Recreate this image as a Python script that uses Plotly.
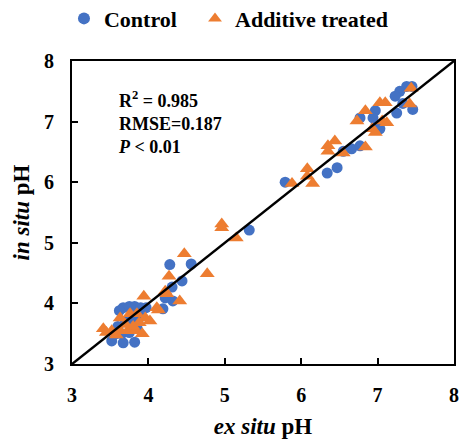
import plotly.graph_objects as go

# Control (blue circles)
control_x = [7.38, 7.45, 7.29, 7.23, 7.46, 7.25, 7.33, 6.97, 6.77, 6.94, 7.03, 6.98,
             6.66, 6.77, 6.55, 6.47, 6.34, 5.79, 5.32, 4.56, 4.28, 4.44, 4.31, 4.32,
             4.19, 4.22, 3.67, 3.75, 3.82, 3.90, 3.97, 3.62, 3.85, 3.70, 3.78, 3.90,
             3.58, 3.65, 3.75, 3.52, 3.67, 3.82, 3.60, 3.85]
control_y = [7.58, 7.58, 7.50, 7.42, 7.20, 7.14, 7.30, 7.18, 7.06, 7.06, 6.88, 6.95,
             6.55, 6.60, 6.51, 6.24, 6.15, 6.00, 5.21, 4.65, 4.64, 4.37, 4.27, 4.04,
             3.91, 4.09, 3.93, 3.95, 3.95, 3.93, 3.93, 3.88, 3.85, 3.70, 3.72, 3.78,
             3.50, 3.50, 3.52, 3.38, 3.35, 3.36, 3.62, 3.60]

# Additive treated (orange triangles)
additive_x = [7.44, 7.42, 7.03, 7.10, 6.84, 6.73, 7.06, 7.12, 6.93, 6.97, 6.44, 6.35,
              6.35, 6.55, 6.84, 6.08, 6.08, 5.88, 6.15, 4.96, 4.96, 5.15, 4.47, 4.27,
              4.77, 4.22, 4.41, 4.11, 4.24, 3.94, 4.13, 3.63, 3.76, 3.85, 3.96, 4.02,
              3.41, 3.52, 3.63, 3.73, 3.83, 3.92, 3.45, 3.70, 3.88, 3.80, 3.58]
additive_y = [7.55, 7.29, 7.31, 7.31, 7.18, 7.01, 7.01, 6.98, 6.88, 6.82, 6.68, 6.60,
              6.51, 6.48, 6.58, 6.22, 6.10, 5.98, 5.98, 5.31, 5.25, 5.08, 4.82, 4.45,
              4.49, 4.20, 4.04, 3.93, 4.16, 4.12, 3.89, 3.76, 3.83, 3.83, 3.76, 3.71,
              3.58, 3.55, 3.55, 3.55, 3.55, 3.50, 3.52, 3.65, 3.68, 3.62, 3.48]

line_x = [3, 8]
line_y = [3, 8]
tick_vals = [3, 4, 5, 6, 7, 8]

stats_text = ["R<sup>2</sup> = 0.985", "RMSE=0.187", "<i>P</i> < 0.01"]

FONT = "Liberation Serif"
BLUE = "#4472C4"
ORANGE = "#ED7D31"

fig = go.Figure()
fig.add_trace(go.Scatter(x=control_x, y=control_y, mode="markers", name="Control",
                         legend="legend",
                         marker=dict(symbol="circle", size=11, color=BLUE)))
fig.add_trace(go.Scatter(x=additive_x, y=additive_y, mode="markers", name="Additive treated",
                         legend="legend2",
                         marker=dict(symbol="triangle-up", size=13, color=ORANGE)))
fig.add_trace(go.Scatter(x=line_x, y=line_y, mode="lines",
                         line=dict(color="black", width=2.5),
                         showlegend=False, hoverinfo="skip"))

axis_common = dict(range=[3, 8], tickvals=tick_vals, ticks="inside", ticklen=6,
                   tickwidth=2, tickcolor="black", showline=True, linecolor="black",
                   linewidth=2, mirror=True, showgrid=False, zeroline=False,
                   automargin=False,
                   tickfont=dict(family=FONT, size=20, color="black", weight="bold"))

leg_font = dict(family=FONT, size=22, color="black", weight="bold")

fig.update_layout(
    width=462, height=441,
    margin=dict(l=72, r=8, t=61, b=77, autoexpand=False),
    plot_bgcolor="white", paper_bgcolor="white",
    xaxis=dict(**axis_common, ticklabelstandoff=12,
               title=dict(text="<i>ex situ</i> pH", standoff=13,
                          font=dict(family=FONT, size=23, color="black", weight="bold"))),
    yaxis=dict(**axis_common, ticklabelstandoff=12,
               title=dict(text="<i>in situ</i> pH", standoff=8,
                          font=dict(family=FONT, size=23, color="black", weight="bold"))),
    legend=dict(orientation="h", x=-0.021, xanchor="left", y=1.14, yanchor="middle",
                font=leg_font, itemsizing="constant", bgcolor="rgba(0,0,0,0)"),
    legend2=dict(orientation="h", x=0.322, xanchor="left", y=1.14, yanchor="middle",
                 font=leg_font, itemsizing="constant", bgcolor="rgba(0,0,0,0)"),
    showlegend=True,
)

fig.add_annotation(x=3.57, y=7.36, xref="x", yref="y", text="<br>".join(stats_text),
                   showarrow=False, xanchor="left", yanchor="top", align="left",
                   yshift=14, font=dict(family=FONT, size=18, color="black", weight="bold"))

fig.write_html("out.html")
